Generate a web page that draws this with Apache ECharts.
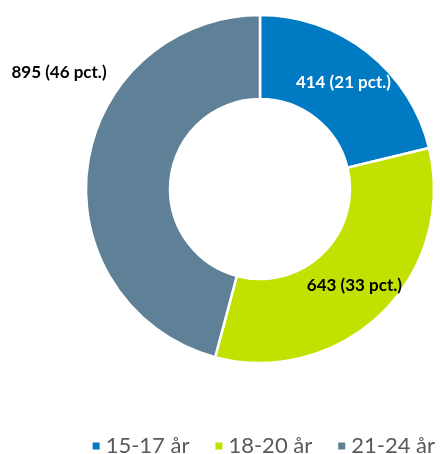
<html lang="da">
<head>
    <meta charset="UTF-8">
    <title>chart</title>
    <script src="https://cdn.jsdelivr.net/npm/echarts@6/dist/echarts.min.js"></script>
    <style>
        html, body { margin: 0; padding: 0; background: #fff; }
        #main { width: 440px; height: 454px; }
    </style>
</head>
<body>
    <div id="main"></div>
    <script type="text/javascript">
        var categories = ['15-17 år', '18-20 år', '21-24 år'];
        var values = [414, 643, 895];
        var pctLabels = ['21', '33', '46'];
        var colors = ['#007AC3', '#C2E100', '#5E8197'];
        var labelColors = ['#ffffff', '#000000', '#000000'];

        var chart = echarts.init(document.getElementById('main'));
        var data = [];
        for (var i = 0; i < categories.length; i++) {
            data.push({
                name: categories[i],
                value: values[i],
                itemStyle: { color: colors[i] },
                label: { color: labelColors[i] }
            });
        }

        var option = {
            backgroundColor: '#ffffff',
            animation: false,
            legend: {
                data: categories,
                top: 430,
                right: 0,
                icon: 'rect',
                itemWidth: 9,
                itemHeight: 9,
                itemGap: 24,
                textStyle: {
                    fontFamily: 'Lato',
                    fontSize: 22,
                    color: '#595959'
                }
            },
            series: [{
                type: 'pie',
                center: [260, 189],
                radius: [90, 174],
                startAngle: 90,
                clockwise: true,
                data: data,
                itemStyle: {
                    borderColor: '#ffffff',
                    borderWidth: 2.5
                },
                label: {
                    show: true,
                    position: 'inside',
                    fontFamily: 'Lato',
                    fontWeight: 'bold',
                    fontSize: 17,
                    formatter: function (p) {
                        return p.value + ' (' + pctLabels[p.dataIndex] + ' pct.)';
                    }
                },
                labelLine: { show: false },
                labelLayout: function (params) {
                    if (params.dataIndex === 2) {
                        return { x: 59, y: 73, align: 'center', verticalAlign: 'middle' };
                    }
                },
                emphasis: { disabled: true }
            }]
        };
        chart.setOption(option);
    </script>
</body>
</html>
